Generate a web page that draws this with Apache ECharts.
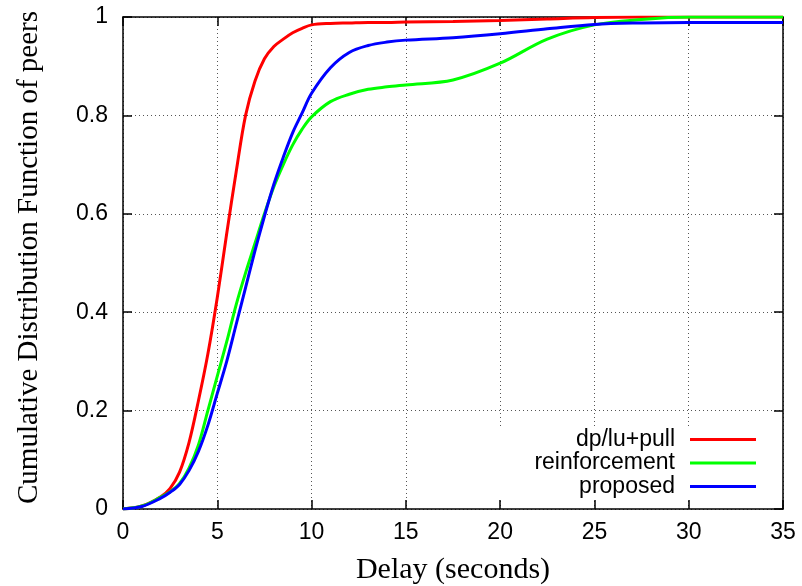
<!DOCTYPE html>
<html>
<head>
<meta charset="utf-8">
<script src="https://cdn.jsdelivr.net/npm/echarts@6/dist/echarts.min.js"></script>
<style>
	html, body { margin: 0; padding: 0; background: #fff; }
	#chart { width: 802px; height: 586px; }
</style>
</head>
<body>
<div id="chart"></div>
<script>
const delays = [ 0, 1, 2, 2.5, 3, 3.5, 4, 4.5, 5, 5.5, 6, 6.5, 7, 7.5, 8, 8.5, 9, 9.5, 10,
	11, 12, 13, 14, 15, 17.5, 20, 22.5, 25, 27.5, 30, 35 ];
const dpLuPull = [ 0, 0.006, 0.025, 0.042, 0.075, 0.135, 0.22, 0.315, 0.43, 0.56, 0.685, 0.8, 0.87, 0.915, 0.94, 0.955, 0.968, 0.977, 0.984,
	0.987, 0.988, 0.989, 0.989, 0.99, 0.991, 0.993, 0.996, 0.999, 1, 1, 1 ];
const reinforcement = [ 0, 0.006, 0.024, 0.035, 0.052, 0.083, 0.13, 0.2, 0.27, 0.34, 0.415, 0.48, 0.54, 0.6, 0.655, 0.7, 0.74, 0.772, 0.797,
	0.828, 0.843, 0.853, 0.858, 0.862, 0.872, 0.906, 0.955, 0.984, 0.995, 1, 1 ];
const proposed = [ 0, 0.005, 0.022, 0.034, 0.05, 0.078, 0.117, 0.17, 0.235, 0.3, 0.375, 0.45, 0.525, 0.595, 0.66, 0.715, 0.765, 0.805, 0.845,
	0.897, 0.928, 0.942, 0.949, 0.953, 0.958, 0.966, 0.976, 0.985, 0.988, 0.989, 0.989 ];
const seriesNames = [ 'dp/lu+pull', 'reinforcement', 'proposed' ];
const seriesColors = [ '#ff0000', '#00ff00', '#0000ff' ];

const sansFont = '"Liberation Sans", Arial, sans-serif';
const serifFont = '"Liberation Serif", "Times New Roman", serif';

const chart = echarts.init( document.getElementById( 'chart' ), null, { renderer: 'canvas' } );

const gridLine = { show: true, lineStyle: { color: '#555', width: 1, type: [ 1, 3 ] } };
const frameLine = { show: true, onZero: false, lineStyle: { color: '#000', width: 1.5 } };
const innerTick = { show: true, inside: true, length: 9, lineStyle: { color: '#000', width: 1.5 } };

const toPairs = ( ys ) => delays.map( ( x, i ) => [ x, ys[ i ] ] );

chart.setOption( {
	animation: false,
	grid: { left: 123, right: 19, top: 17, bottom: 77, containLabel: false, outerBoundsMode: 'none' },
	xAxis: [ {
		type: 'value', min: 0, max: 35, interval: 5,
		name: 'Delay (seconds)', nameLocation: 'middle', nameGap: 46,
		nameTextStyle: { fontFamily: serifFont, fontSize: 30, color: '#000' },
		axisLine: frameLine, axisTick: innerTick, splitLine: gridLine,
		axisLabel: { fontFamily: sansFont, fontSize: 23, color: '#000', margin: 12 }
	}, {
		type: 'value', min: 0, max: 35, interval: 5, position: 'top',
		axisLine: frameLine, axisTick: innerTick, splitLine: { show: false },
		axisLabel: { show: false }
	} ],
	yAxis: [ {
		type: 'value', min: 0, max: 1, interval: 0.2,
		name: 'Cumulative Distribution Function of peers', nameLocation: 'middle', nameGap: 79,
		// nudged up a little, the original title is not centred on the axis
		nameTextStyle: { fontFamily: serifFont, fontSize: 29, color: '#000', padding: [ 0, 0, 0, 11 ] },
		axisLine: frameLine, axisTick: innerTick, splitLine: gridLine,
		axisLabel: { fontFamily: sansFont, fontSize: 23, color: '#000', margin: 15 }
	}, {
		type: 'value', min: 0, max: 1, interval: 0.2, position: 'right',
		axisLine: frameLine, axisTick: innerTick, splitLine: { show: false },
		axisLabel: { show: false }
	} ],
	legend: {
		orient: 'vertical', right: 46, top: 428, padding: 0, itemGap: 0.5,
		align: 'right', icon: 'rect', itemWidth: 66, itemHeight: 3,
		textStyle: { fontFamily: sansFont, fontSize: 23, color: '#000', padding: [ 0, 10, 0, 0 ] },
		data: seriesNames
	},
	// white key box, hides the grid lines behind the legend as gnuplot does
	graphic: [ {
		type: 'rect', z: 1, silent: true,
		shape: { x: 490, y: 427, width: 288, height: 72 },
		style: { fill: '#fff' }
	} ],
	series: [ dpLuPull, reinforcement, proposed ].map( ( ys, i ) => ( {
		name: seriesNames[ i ],
		type: 'line',
		data: toPairs( ys ),
		showSymbol: false,
		smooth: 0.35,
		color: seriesColors[ i ],
		lineStyle: { width: 3, color: seriesColors[ i ] }
	} ) )
} );
</script>
</body>
</html>
